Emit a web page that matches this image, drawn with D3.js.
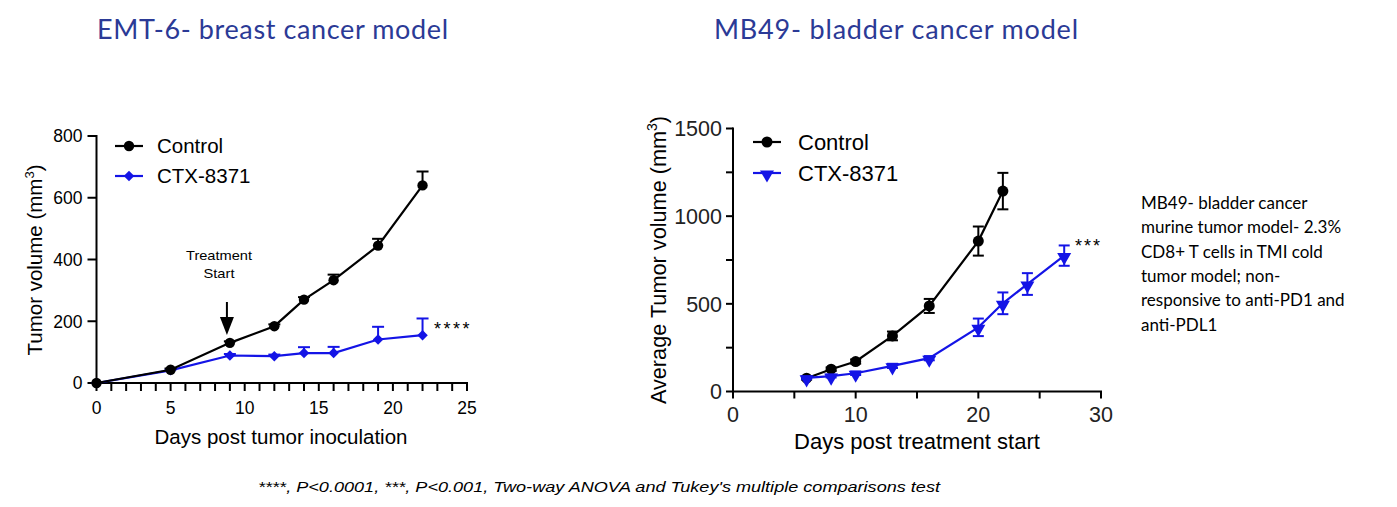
<!DOCTYPE html>
<html>
<head>
<meta charset="utf-8">
<script src="https://cdn.jsdelivr.net/npm/d3@7"></script>
<style>
  body { margin: 0; background: #fff; }
  svg text { font-family: "Liberation Sans", Arial, sans-serif; }
</style>
</head>
<body>
<svg id="chart" width="1397" height="507"></svg>
<script>
// EMT-6 data
var emtDays = [0, 5, 9, 12, 14, 16, 19, 22];
var emtControl = [0, 43, 130, 184, 270, 333, 445, 640];
var emtControlErr = [0, 4, 5, 6, 8, 18, 22, 45];
var emtCtxDays = [0, 5, 9, 12, 14, 16, 19, 22];
var emtCtx = [0, 41, 89, 87, 97, 97, 141, 155];
var emtCtxErr = [0, 3, 5, 5, 19, 20, 41, 54];

// MB49 data
var mbControlDays = [6, 8, 10, 13, 16, 20, 22];
var mbControl = [76, 127, 171, 317, 488, 858, 1143];
var mbControlErr = [8, 10, 12, 25, 40, 83, 104];
var mbCtxDays = [6, 8, 10, 13, 16, 20, 22, 24, 27];
var mbCtx = [78, 88, 104, 146, 190, 366, 503, 613, 775];
var mbCtxErr = [8, 8, 10, 12, 12, 50, 62, 62, 58];

var seriesNames = ["Control", "CTX-8371"];
var emtYTicks = [0, 200, 400, 600, 800];
var emtXTicks = [0, 5, 10, 15, 20, 25];
var mbYTicks = [0, 500, 1000, 1500];
var mbXTicks = [0, 10, 20, 30];

var svg = d3.select("#chart");
var blue = "#1414e6";

function pts(days, vals, errs) {
  return days.map(function (d, i) { return { x: d, y: vals[i], e: errs[i] }; });
}

function drawAxes(g, x, y, o) {
  var xa = g.append("g").attr("transform", "translate(0," + y.range()[0] + ")");
  xa.append("line").attr("x1", x.range()[0] - 1).attr("x2", x.range()[1] + 1)
    .attr("stroke", "#000").attr("stroke-width", 2);
  xa.selectAll(".mx").data(o.xMinor).enter().append("line")
    .attr("x1", function (d) { return x(d); }).attr("x2", function (d) { return x(d); })
    .attr("y1", 0).attr("y2", o.xTick).attr("stroke", "#000").attr("stroke-width", 2);
  xa.selectAll(".tx").data(o.xTicks).enter().append("text")
    .attr("x", function (d) { return x(d); }).attr("y", o.xOff)
    .attr("text-anchor", "middle").attr("font-size", o.fs).attr("fill", o.col).text(function (d) { return d; });

  var ya = g.append("g").attr("transform", "translate(" + x.range()[0] + ",0)");
  ya.append("line").attr("y1", y.range()[0] + 1).attr("y2", y.range()[1] - 1)
    .attr("stroke", "#000").attr("stroke-width", 2);
  ya.selectAll(".my").data(o.yMinor).enter().append("line")
    .attr("y1", function (d) { return y(d); }).attr("y2", function (d) { return y(d); })
    .attr("x1", 0).attr("x2", -o.yTick).attr("stroke", "#000").attr("stroke-width", 2);
  ya.selectAll(".ty").data(o.yTicks).enter().append("text")
    .attr("x", -o.yOff).attr("y", function (d) { return y(d) + o.fs * 0.36; })
    .attr("text-anchor", "end").attr("font-size", o.fs).attr("fill", o.col).text(function (d) { return d; });
}

function markerTransform(symbol) {
  if (symbol === d3.symbolTriangle) return " rotate(180) translate(0,-1.5)";
  if (symbol === d3.symbolSquare) return " rotate(45)";
  return "";
}

function drawSeries(g, x, y, data, color, symbol, size, capW, both) {
  var line = d3.line().x(function (d) { return x(d.x); }).y(function (d) { return y(d.y); });
  var eb = g.append("g").attr("stroke", color).attr("stroke-width", 2);
  data.forEach(function (d) {
    if (d.e <= 0) return;
    var lo = both ? d.y - d.e : d.y;
    eb.append("line").attr("x1", x(d.x)).attr("x2", x(d.x)).attr("y1", y(lo)).attr("y2", y(d.y + d.e));
    eb.append("line").attr("x1", x(d.x) - capW / 2).attr("x2", x(d.x) + capW / 2)
      .attr("y1", y(d.y + d.e)).attr("y2", y(d.y + d.e));
    if (both) eb.append("line").attr("x1", x(d.x) - capW / 2).attr("x2", x(d.x) + capW / 2)
      .attr("y1", y(lo)).attr("y2", y(lo));
  });
  g.append("path").datum(data).attr("d", line).attr("fill", "none")
    .attr("stroke", color).attr("stroke-width", 2.2);
  g.selectAll(null).data(data).enter().append("path")
    .attr("d", d3.symbol().type(symbol).size(size))
    .attr("transform", function (d) { return "translate(" + x(d.x) + "," + y(d.y) + ")" + markerTransform(symbol); })
    .attr("fill", color);
}

function legend(g, x0, y0, dy, color, symbols, sizes, fs, textX) {
  seriesNames.forEach(function (n, i) {
    var yy = y0 + i * dy;
    g.append("line").attr("x1", x0).attr("x2", x0 + 28).attr("y1", yy).attr("y2", yy)
      .attr("stroke", color[i]).attr("stroke-width", 2.2);
    g.append("path").attr("d", d3.symbol().type(symbols[i]).size(sizes[i])())
      .attr("transform", "translate(" + (x0 + 14) + "," + yy + ")" + markerTransform(symbols[i]))
      .attr("fill", color[i]);
    g.append("text").attr("x", textX).attr("y", yy + fs * 0.36).attr("font-size", fs).text(n);
  });
}

// ---- Chart 1 ----
var g1 = svg.append("g");
var x1 = d3.scaleLinear().domain([0, 25]).range([96.5, 467]);
var y1 = d3.scaleLinear().domain([0, 800]).range([383, 136]);
drawAxes(g1, x1, y1, { xTicks: emtXTicks, yTicks: emtYTicks, xMinor: d3.range(0, 26), yMinor: emtYTicks,
  fs: 17.5, xOff: 31, yOff: 14, xTick: 8, yTick: 9, col: "#000" });
drawSeries(g1, x1, y1, pts(emtCtxDays, emtCtx, emtCtxErr), blue, d3.symbolSquare, 55, 12, false);
drawSeries(g1, x1, y1, pts(emtDays, emtControl, emtControlErr), "#000", d3.symbolCircle, 85, 12, false);
legend(g1, 115, 146, 30, ["#000", blue], [d3.symbolCircle, d3.symbolSquare], [85, 55], 20.5, 157);
g1.append("text").attr("x", 281).attr("y", 444).attr("text-anchor", "middle").attr("font-size", 20.5)
  .text("Days post tumor inoculation");
var yl1 = g1.append("text").attr("transform", "translate(42,260) rotate(-90)")
  .attr("text-anchor", "middle").attr("font-size", 20.5);
yl1.append("tspan").text("Tumor volume (mm");
yl1.append("tspan").attr("dy", -8).attr("font-size", 13).text("3");
yl1.append("tspan").attr("dy", 8).text(")");
g1.append("text").attr("x", 219).attr("y", 260).attr("text-anchor", "middle").attr("font-size", 13.5)
  .attr("textLength", 66).attr("lengthAdjust", "spacingAndGlyphs").text("Treatment");
g1.append("text").attr("x", 219).attr("y", 278).attr("text-anchor", "middle").attr("font-size", 13.5)
  .attr("textLength", 31).attr("lengthAdjust", "spacingAndGlyphs").text("Start");
var ax = x1(8.8);
g1.append("line").attr("x1", ax).attr("x2", ax).attr("y1", 302).attr("y2", 322)
  .attr("stroke", "#000").attr("stroke-width", 2);
g1.append("path").attr("d", d3.line()([[ax - 7, 317], [ax + 7, 317], [ax, 335]]) + "Z").attr("fill", "#000");
g1.append("text").attr("x", 434).attr("y", 335).attr("font-size", 18).attr("letter-spacing", 2.5).text("****");

// ---- Chart 2 ----
var g2 = svg.append("g");
var x2 = d3.scaleLinear().domain([0, 30]).range([733, 1101]);
var y2 = d3.scaleLinear().domain([0, 1500]).range([391.5, 128.5]);
drawAxes(g2, x2, y2, { xTicks: mbXTicks, yTicks: mbYTicks, xMinor: d3.range(0, 31, 5), yMinor: d3.range(0, 1501, 250),
  fs: 21.5, xOff: 30.5, yOff: 11, xTick: 7, yTick: 7, col: "#222" });
drawSeries(g2, x2, y2, pts(mbControlDays, mbControl, mbControlErr), "#000", d3.symbolCircle, 95, 11, true);
drawSeries(g2, x2, y2, pts(mbCtxDays, mbCtx, mbCtxErr), blue, d3.symbolTriangle, 85, 11, true);
legend(g2, 753, 142, 31, ["#000", blue], [d3.symbolCircle, d3.symbolTriangle], [95, 85], 22, 798);
g2.append("text").attr("x", 917).attr("y", 449).attr("text-anchor", "middle").attr("font-size", 22)
  .text("Days post treatment start");
var yl2 = g2.append("text").attr("transform", "translate(666,260) rotate(-90)")
  .attr("text-anchor", "middle").attr("font-size", 21.7);
yl2.append("tspan").text("Average Tumor volume (mm");
yl2.append("tspan").attr("dy", -9).attr("font-size", 14).text("3");
yl2.append("tspan").attr("dy", 9).text(")");
g2.append("text").attr("x", 1075).attr("y", 252).attr("font-size", 18).attr("letter-spacing", 2).text("***");

// ---- Titles and notes ----
var titleFont = "Lato, 'Open Sans', sans-serif";
svg.append("text").attr("x", 97).attr("y", 39).attr("font-size", 27).attr("fill", "#2b3a96")
  .attr("textLength", 351).attr("lengthAdjust", "spacing")
  .style("font-family", titleFont).text("EMT-6- breast cancer model");
svg.append("text").attr("x", 714).attr("y", 39).attr("font-size", 27).attr("fill", "#2b3a96")
  .attr("textLength", 364).attr("lengthAdjust", "spacing")
  .style("font-family", titleFont).text("MB49- bladder cancer model");

var noteLines = ["MB49- bladder cancer", "murine tumor model- 2.3%", "CD8+ T cells in TMI cold",
  "tumor model; non-", "responsive to anti-PD1 and", "anti-PDL1"];
svg.selectAll(".note").data(noteLines).enter().append("text")
  .attr("x", 1141).attr("y", function (d, i) { return 209 + i * 24.3; })
  .attr("font-size", 17).style("font-family", titleFont).text(function (d) { return d; });

svg.append("text").attr("x", 599).attr("y", 492).attr("text-anchor", "middle").attr("font-size", 15.5)
  .attr("font-style", "italic").attr("textLength", 682).attr("lengthAdjust", "spacingAndGlyphs")
  .text("****, P<0.0001, ***, P<0.001, Two-way ANOVA and Tukey's multiple comparisons test");
</script>
</body>
</html>
